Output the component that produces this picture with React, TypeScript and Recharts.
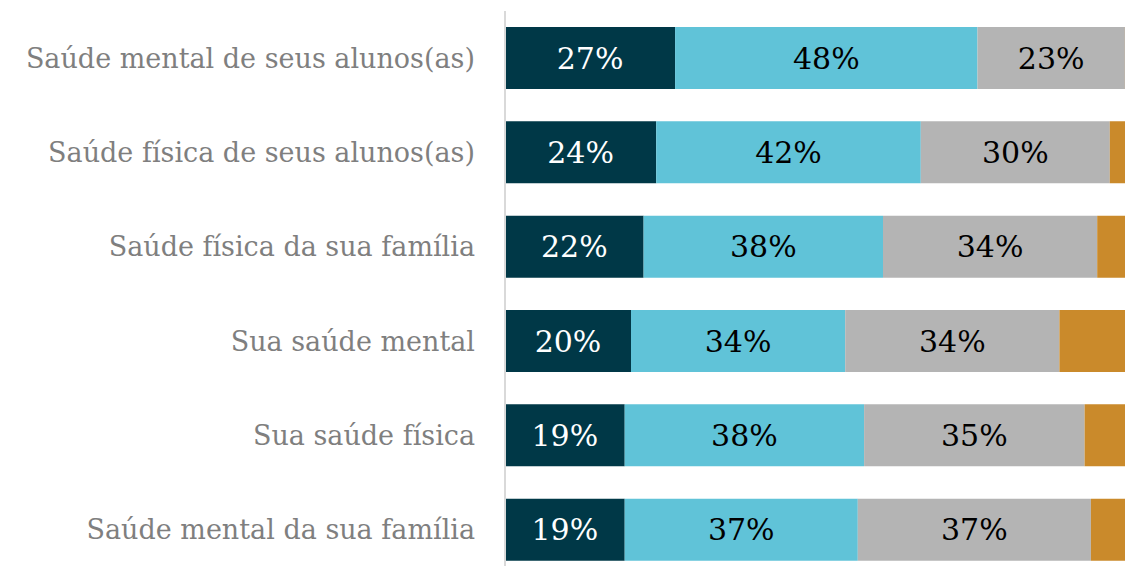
import React from "react";
import { Bar, BarChart, LabelList, XAxis, YAxis } from "recharts";

const categories = [
    "Saúde mental de seus alunos(as)",
    "Saúde física de seus alunos(as)",
    "Saúde física da sua família",
    "Sua saúde mental",
    "Sua saúde física",
    "Saúde mental da sua família",
];

// values shown as rounded percentages
const muito = [27, 24, 22, 20, 19, 19];
const preocupado = [48, 42, 38, 34, 38, 37];
const pouco = [23.4, 30, 34, 34, 35, 37];
const nada = [1.6, 4, 6, 12, 8, 7];

const data = categories.map((name, i) => ({
    name,
    muito: muito[i],
    preocupado: preocupado[i],
    pouco: pouco[i],
    nada: nada[i],
}));

const FONT = "'DejaVu Serif', Georgia, serif";

const pct = (v: any) => `${Math.round(Number(v))}%`;

export default function App() {
    return (
        <div style={{ position: "absolute", left: 0, top: 0, width: 1125, height: 566, overflow: "hidden", background: "#fff" }}>
            <BarChart
                width={1140}
                height={580}
                data={data}
                layout="vertical"
                margin={{ top: 11, right: 5, bottom: 3, left: 0 }}
                barSize={62}
            >
                <XAxis type="number" domain={[0, 100]} hide />
                <YAxis
                    type="category"
                    dataKey="name"
                    width={505}
                    tickLine={false}
                    tickMargin={24}
                    axisLine={{ stroke: "#d9d9d9", strokeWidth: 2 }}
                    tick={{ fill: "#7f7f7f", fontSize: 27, fontFamily: FONT }}
                    interval={0}
                />
                <Bar dataKey="muito" stackId="a" fill="#003847" isAnimationActive={false}>
                    <LabelList dataKey="muito" position="center" formatter={pct} fill="#ffffff" fontSize={30} fontFamily={FONT} />
                </Bar>
                <Bar dataKey="preocupado" stackId="a" fill="#60c3d8" isAnimationActive={false}>
                    <LabelList dataKey="preocupado" position="center" formatter={pct} fill="#000000" fontSize={30} fontFamily={FONT} />
                </Bar>
                <Bar dataKey="pouco" stackId="a" fill="#b4b4b4" isAnimationActive={false}>
                    <LabelList dataKey="pouco" position="center" formatter={pct} fill="#000000" fontSize={30} fontFamily={FONT} />
                </Bar>
                <Bar dataKey="nada" stackId="a" fill="#ca8a2b" isAnimationActive={false} />
            </BarChart>
        </div>
    );
}
